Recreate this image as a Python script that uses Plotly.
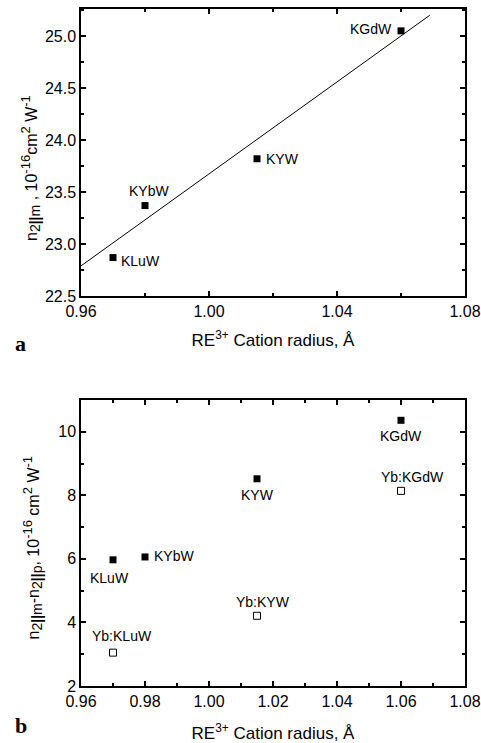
import plotly.graph_objects as go

# panel a: n2||m versus cation radius
radius_a = [0.97, 0.98, 1.015, 1.06]
n2_m = [22.87, 23.37, 23.82, 25.05]
names_a = ["KLuW", "KYbW", "KYW", "KGdW"]
fit_x = [0.96, 1.069]
fit_y = [22.79, 25.20]

# panel b: n2||m - n2||p
radius_b = [0.97, 0.98, 1.015, 1.06]
diff_pure = [5.97, 6.06, 8.52, 10.36]
names_b = ["KLuW", "KYbW", "KYW", "KGdW"]
radius_yb = [0.97, 1.015, 1.06]
diff_yb = [3.05, 4.21, 8.14]
names_yb = ["Yb:KLuW", "Yb:KYW", "Yb:KGdW"]

FONT = "Liberation Sans, Arial, sans-serif"

fig = go.Figure()
fig.add_trace(go.Scatter(x=fit_x, y=fit_y, mode="lines", line=dict(color="black", width=1),
                         xaxis="x", yaxis="y", showlegend=False))
fig.add_trace(go.Scatter(x=radius_a, y=n2_m, mode="markers",
                         marker=dict(symbol="square", size=7, color="black"),
                         xaxis="x", yaxis="y", showlegend=False))
fig.add_trace(go.Scatter(x=radius_b, y=diff_pure, mode="markers",
                         marker=dict(symbol="square", size=7, color="black"),
                         xaxis="x2", yaxis="y2", showlegend=False))
fig.add_trace(go.Scatter(x=radius_yb, y=diff_yb, mode="markers",
                         marker=dict(symbol="square-open", size=7, color="black", line=dict(width=1)),
                         xaxis="x2", yaxis="y2", showlegend=False))

ax = dict(showline=True, linecolor="black", linewidth=1.5, mirror="ticks", ticks="inside",
          ticklen=5, tickwidth=1.5, tickcolor="black", showgrid=False, zeroline=False,
          automargin=False, tickfont=dict(family=FONT, size=16, color="black"))

xtitle = dict(text="RE<sup>3+</sup> Cation radius, Å", font=dict(family=FONT, size=17, color="black"))


def sb(t):
    return "<sub><span style='font-size:14px'>" + t + "</span></sub>"


def sp(t):
    return "<sup><span style='font-size:13px'>" + t + "</span></sup>"


ytitle_a = "n" + sb("2<b>||</b>m") + " , 10" + sp("-16") + "cm" + sp("2") + " W" + sp("-1")
ytitle_b = ("n" + sb("2<b>||</b>m") + "-n" + sb("2<b>||</b>p") + ", 10" + sp("-16")
            + " cm" + sp("2") + " W" + sp("-1"))

fig.update_layout(
    width=481, height=743,
    margin=dict(l=81, r=16, t=9, b=57),
    plot_bgcolor="white", paper_bgcolor="white",
    xaxis=dict(ax, domain=[0, 1], anchor="y", range=[0.96, 1.08], dtick=0.04, tick0=0.96,
               tickformat=".2f", minor=dict(ticks="inside", ticklen=3, dtick=0.02, tickcolor="black"),
               title=dict(xtitle, standoff=15)),
    yaxis=dict(ax, domain=[0.576, 1], anchor="x", range=[22.5, 25.26], dtick=0.5, tick0=22.5,
               tickformat=".1f", minor=dict(ticks="inside", ticklen=3, dtick=0.25, tickcolor="black")),
    xaxis2=dict(ax, domain=[0, 1], anchor="y2", range=[0.96, 1.08], dtick=0.02, tick0=0.96,
                tickformat=".2f", minor=dict(ticks="inside", ticklen=3, dtick=0.01, tickcolor="black"),
                title=dict(xtitle, standoff=18)),
    yaxis2=dict(ax, domain=[0, 0.4225], anchor="x2", range=[2, 11], dtick=2, tick0=2,
                minor=dict(ticks="inside", ticklen=3, dtick=1, tickcolor="black")),
)

# y titles as rotated annotations (placed slightly off-centre like the original)
ytf = dict(family=FONT, size=16, color="black")
fig.add_annotation(showarrow=False, text=ytitle_a, textangle=-90, xref="paper", yref="paper",
                   x=-0.133, y=0.765, xanchor="center", yanchor="middle", font=ytf)
fig.add_annotation(showarrow=False, text=ytitle_b, textangle=-90, xref="paper", yref="paper",
                   x=-0.127, y=0.205, xanchor="center", yanchor="middle", font=ytf)

lab = dict(showarrow=False, font=dict(family=FONT, size=14, color="black"))

# labels panel a
offs_a = {"KLuW": ("left", 6, -3), "KYbW": ("center", 4, 15), "KYW": ("left", 7, 0), "KGdW": ("right", -7, 2)}
for x, y, n in zip(radius_a, n2_m, names_a):
    anc, dx, dy = offs_a[n]
    fig.add_annotation(lab, x=x, y=y, xref="x", yref="y", text=n, xanchor=anc, xshift=dx, yshift=dy)

# labels panel b
offs_b = {"KLuW": ("center", -4, -18), "KYbW": ("left", 7, 1), "KYW": ("center", 0, -16), "KGdW": ("center", 0, -16)}
for x, y, n in zip(radius_b, diff_pure, names_b):
    anc, dx, dy = offs_b[n]
    fig.add_annotation(lab, x=x, y=y, xref="x2", yref="y2", text=n, xanchor=anc, xshift=dx, yshift=dy)
offs_yb = {"Yb:KLuW": (9, 17), "Yb:KYW": (6, 14), "Yb:KGdW": (11, 14)}
for x, y, n in zip(radius_yb, diff_yb, names_yb):
    dx, dy = offs_yb[n]
    fig.add_annotation(lab, x=x, y=y, xref="x2", yref="y2", text=n, xanchor="center", xshift=dx, yshift=dy)

# panel letters
serif = dict(family="Liberation Serif, Times New Roman, serif", size=22, color="black")
fig.add_annotation(showarrow=False, text="<b>a</b>", xref="paper", yref="paper", x=-0.177, y=0.576,
                   yshift=-47, xanchor="left", font=serif)
fig.add_annotation(showarrow=False, text="<b>b</b>", xref="paper", yref="paper", x=-0.177, y=0,
                   yshift=-54, xanchor="left", font=serif)

fig.write_html("out.html", post_script="document.body.style.margin='0';",
               config={"displayModeBar": False})
